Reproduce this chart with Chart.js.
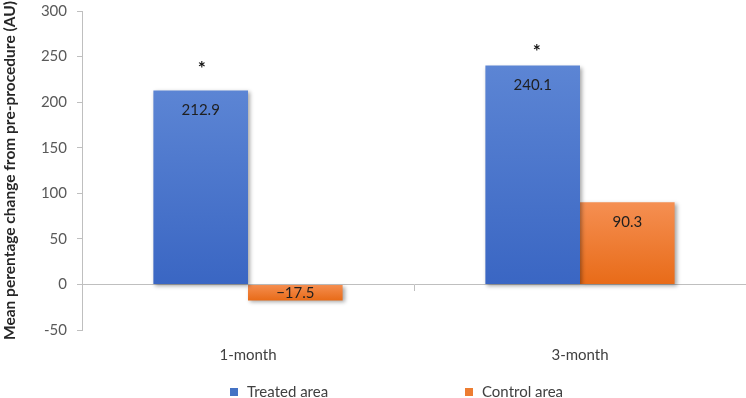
<!DOCTYPE html>
<html>
<head>
<meta charset="utf-8">
<script src="https://cdn.jsdelivr.net/npm/chart.js@4.4.1/dist/chart.umd.min.js"></script>
<style>
  html, body { margin: 0; padding: 0; background: #ffffff; }
  #wrap { width: 746px; height: 398px; }
</style>
</head>
<body>
<div id="wrap"><canvas id="c" width="746" height="398"></canvas></div>
<script>
// ---- data ----
const categories = ['1-month', '3-month'];
const treatedValues = [212.9, 240.1];
const controlValues = [-17.5, 90.3];
const treatedLabels = ['212.9', '240.1'];
const controlLabels = ['\u221217.5', '90.3'];
const significance = ['*', '*'];
const yTicks = [-50, 0, 50, 100, 150, 200, 250, 300];
const seriesNames = ['Treated area', 'Control area'];
const yTitle = 'Mean perentage change from pre-procedure (AU)';

const FONT = 'Lato, "Open Sans", sans-serif';

const palette = {
  treated: { top: '#5c85d4', bottom: '#3a66c3', legend: '#4472c4' },
  control: { top: '#f58f52', bottom: '#e86b18', legend: '#ed7d31' }
};

function gradientFor(key) {
  return function (ctx) {
    const chart = ctx.chart;
    const pal = palette[key];
    if (!chart.chartArea || ctx.type !== 'data') return pal.legend;
    const v = ctx.raw;
    const ys = chart.scales.y;
    const top = ys.getPixelForValue(Math.max(v, 0));
    const bot = ys.getPixelForValue(Math.min(v, 0));
    if (!isFinite(top) || !isFinite(bot) || top === bot) return pal.legend;
    const g = chart.ctx.createLinearGradient(0, top, 0, bot);
    g.addColorStop(0, pal.top);
    g.addColorStop(1, pal.bottom);
    return g;
  };
}

const shadowPlugin = {
  id: 'barShadow',
  beforeDatasetsDraw(chart) {
    const c = chart.ctx;
    c.save();
    c.shadowColor = 'rgba(0,0,0,0.35)';
    c.shadowBlur = 4;
    c.shadowOffsetX = 2;
    c.shadowOffsetY = 2;
  },
  afterDatasetsDraw(chart) {
    chart.ctx.restore();
  }
};

const labelPlugin = {
  id: 'barLabels',
  afterDatasetsDraw(chart) {
    const c = chart.ctx;
    const texts = [treatedLabels, controlLabels];
    c.save();
    c.font = '15px ' + FONT;
    c.fillStyle = '#1f1f1f';
    c.textAlign = 'center';
    c.textBaseline = 'middle';
    chart.data.datasets.forEach((ds, di) => {
      const meta = chart.getDatasetMeta(di);
      meta.data.forEach((bar, i) => {
        const v = ds.data[i];
        let y;
        if (v >= 0) {
          y = bar.y + 20;
        } else {
          y = (bar.y + bar.base) / 2 + 1;
        }
        c.fillText(texts[di][i], bar.x, y);
      });
    });
    // significance stars above treated bars
    const starOffsets = [26, 18];
    const meta0 = chart.getDatasetMeta(0);
    c.font = 'bold 19px ' + FONT;
    c.fillStyle = '#111111';
    meta0.data.forEach((bar, i) => {
      if (significance[i]) c.fillText(significance[i], bar.x + (i === 1 ? 4 : 1), bar.y - starOffsets[i] + 4);
    });
    c.restore();
  }
};

const legendPlugin = {
  id: 'customLegend',
  afterDraw(chart) {
    const c = chart.ctx;
    const items = [
      { text: seriesNames[0], color: palette.treated.legend, x: 230 },
      { text: seriesNames[1], color: palette.control.legend, x: 465 }
    ];
    const cy = 392;
    c.save();
    c.font = '15px ' + FONT;
    c.textBaseline = 'middle';
    c.textAlign = 'left';
    items.forEach(it => {
      c.fillStyle = it.color;
      c.fillRect(it.x, cy - 4, 8, 8);
      c.fillStyle = '#404040';
      c.fillText(it.text, it.x + 17, cy);
    });
    c.restore();
  }
};

new Chart(document.getElementById('c'), {
  type: 'bar',
  data: {
    labels: categories,
    datasets: [
      {
        label: seriesNames[0],
        data: treatedValues,
        backgroundColor: gradientFor('treated'),
        borderWidth: 0,
        categoryPercentage: 0.57,
        barPercentage: 1.0
      },
      {
        label: seriesNames[1],
        data: controlValues,
        backgroundColor: gradientFor('control'),
        borderWidth: 0,
        categoryPercentage: 0.57,
        barPercentage: 1.0
      }
    ]
  },
  options: {
    responsive: false,
    animation: false,
    layout: { padding: { top: 11, right: 0, bottom: 0, left: 0 } },
    plugins: {
      legend: { display: false },
      tooltip: { enabled: false }
    },
    scales: {
      x: {
        type: 'category',
        position: 'bottom',
        offset: true,
        grid: { display: false, offset: true },
        border: { display: false },
        ticks: {
          color: '#404040',
          font: { family: FONT, size: 15 },
          padding: 8
        },
        afterFit(scale) { scale.height = 68; }
      },
      x2: {
        type: 'category',
        labels: categories,
        position: { y: 0 },
        offset: true,
        grid: {
          offset: true,
          drawOnChartArea: false,
          drawTicks: true,
          tickLength: 6,
          tickColor: '#bfbfbf',
          color: '#bfbfbf'
        },
        border: { display: true, color: '#bfbfbf', width: 1 },
        ticks: { display: false },
        afterFit(scale) { scale.height = 0; }
      },
      y: {
        min: -50,
        max: 300,
        afterBuildTicks(scale) {
          scale.ticks = yTicks.map(v => ({ value: v }));
        },
        grid: {
          drawOnChartArea: false,
          drawTicks: true,
          tickLength: 5,
          tickColor: '#bfbfbf'
        },
        border: { display: true, color: '#bfbfbf', width: 1 },
        ticks: {
          color: '#595959',
          font: { family: FONT, size: 15 },
          padding: 10
        },
        title: {
          display: true,
          text: yTitle,
          color: '#262626',
          font: { family: FONT, size: 15.5, weight: 'bold' },
          padding: { top: 1, bottom: 0 }
        },
        afterFit(scale) {
          scale.width = 82;
          scale.paddingTop = 2;
          scale.paddingBottom = 2;
        }
      }
    }
  },
  plugins: [shadowPlugin, labelPlugin, legendPlugin]
});
</script>
</body>
</html>
